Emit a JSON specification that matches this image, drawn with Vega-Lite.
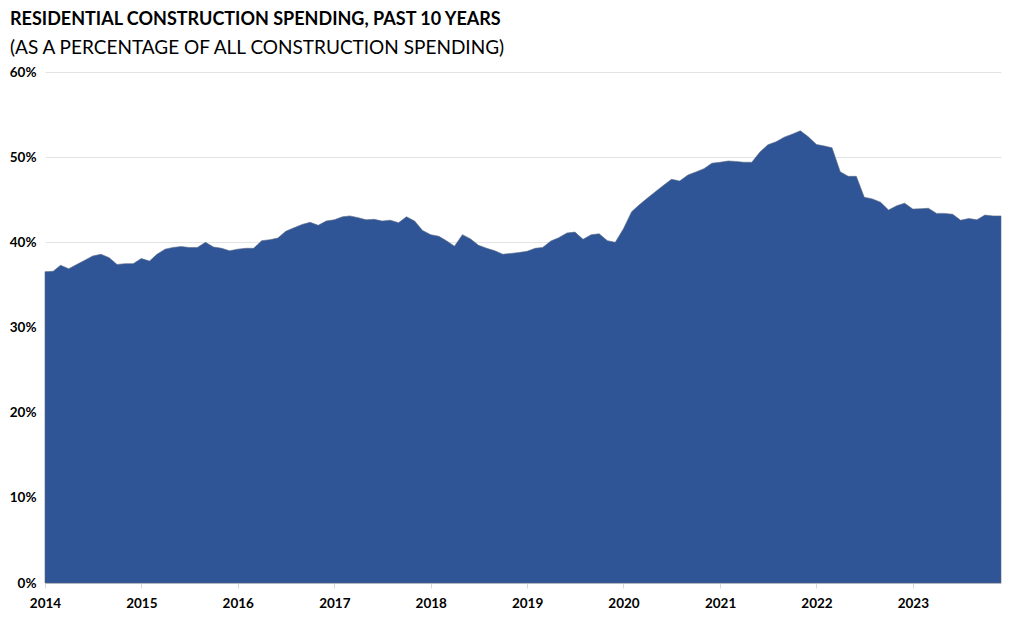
{
  "$schema": "https://vega.github.io/schema/vega-lite/v6.json",
  "width": 956,
  "height": 511,
  "autosize": {"type": "none"},
  "padding": {"left": 45, "top": 72, "right": 23, "bottom": 34},
  "background": "white",
  "config": {"view": {"stroke": null}, "font": "Lato"},
  "title": {
    "text": "RESIDENTIAL CONSTRUCTION SPENDING, PAST 10 YEARS",
    "subtitle": "(AS A PERCENTAGE OF ALL CONSTRUCTION SPENDING)",
    "anchor": "start",
    "frame": "group",
    "dx": -35,
    "offset": 7,
    "font": "Lato",
    "fontSize": 18,
    "fontWeight": "bold",
    "color": "#000000",
    "subtitleFont": "Lato",
    "subtitleFontSize": 19,
    "subtitleColor": "#000000",
    "subtitleFontWeight": "normal",
    "subtitlePadding": 10
  },
  "data": {
    "values": [
      {"date": "2014-01-01", "pct": 36.55}, {"date": "2014-02-01", "pct": 36.6}, {"date": "2014-03-01", "pct": 37.3}, {"date": "2014-04-01", "pct": 36.9}, {"date": "2014-05-01", "pct": 37.4}, {"date": "2014-06-01", "pct": 37.9}, {"date": "2014-07-01", "pct": 38.4}, {"date": "2014-08-01", "pct": 38.6}, {"date": "2014-09-01", "pct": 38.2}, {"date": "2014-10-01", "pct": 37.4}, {"date": "2014-11-01", "pct": 37.5}, {"date": "2014-12-01", "pct": 37.5},
      {"date": "2015-01-01", "pct": 38.1}, {"date": "2015-02-01", "pct": 37.8}, {"date": "2015-03-01", "pct": 38.6}, {"date": "2015-04-01", "pct": 39.2}, {"date": "2015-05-01", "pct": 39.4}, {"date": "2015-06-01", "pct": 39.5}, {"date": "2015-07-01", "pct": 39.4}, {"date": "2015-08-01", "pct": 39.4}, {"date": "2015-09-01", "pct": 40.0}, {"date": "2015-10-01", "pct": 39.45}, {"date": "2015-11-01", "pct": 39.3}, {"date": "2015-12-01", "pct": 39.0},
      {"date": "2016-01-01", "pct": 39.2}, {"date": "2016-02-01", "pct": 39.3}, {"date": "2016-03-01", "pct": 39.3}, {"date": "2016-04-01", "pct": 40.2}, {"date": "2016-05-01", "pct": 40.3}, {"date": "2016-06-01", "pct": 40.5}, {"date": "2016-07-01", "pct": 41.3}, {"date": "2016-08-01", "pct": 41.7}, {"date": "2016-09-01", "pct": 42.1}, {"date": "2016-10-01", "pct": 42.35}, {"date": "2016-11-01", "pct": 42.0}, {"date": "2016-12-01", "pct": 42.5},
      {"date": "2017-01-01", "pct": 42.65}, {"date": "2017-02-01", "pct": 43.0}, {"date": "2017-03-01", "pct": 43.1}, {"date": "2017-04-01", "pct": 42.9}, {"date": "2017-05-01", "pct": 42.65}, {"date": "2017-06-01", "pct": 42.7}, {"date": "2017-07-01", "pct": 42.5}, {"date": "2017-08-01", "pct": 42.6}, {"date": "2017-09-01", "pct": 42.3}, {"date": "2017-10-01", "pct": 43.0}, {"date": "2017-11-01", "pct": 42.5}, {"date": "2017-12-01", "pct": 41.4},
      {"date": "2018-01-01", "pct": 40.9}, {"date": "2018-02-01", "pct": 40.7}, {"date": "2018-03-01", "pct": 40.2}, {"date": "2018-04-01", "pct": 39.55}, {"date": "2018-05-01", "pct": 40.9}, {"date": "2018-06-01", "pct": 40.4}, {"date": "2018-07-01", "pct": 39.65}, {"date": "2018-08-01", "pct": 39.3}, {"date": "2018-09-01", "pct": 39.0}, {"date": "2018-10-01", "pct": 38.6}, {"date": "2018-11-01", "pct": 38.7}, {"date": "2018-12-01", "pct": 38.8},
      {"date": "2019-01-01", "pct": 38.95}, {"date": "2019-02-01", "pct": 39.3}, {"date": "2019-03-01", "pct": 39.4}, {"date": "2019-04-01", "pct": 40.15}, {"date": "2019-05-01", "pct": 40.55}, {"date": "2019-06-01", "pct": 41.1}, {"date": "2019-07-01", "pct": 41.2}, {"date": "2019-08-01", "pct": 40.35}, {"date": "2019-09-01", "pct": 40.9}, {"date": "2019-10-01", "pct": 41.0}, {"date": "2019-11-01", "pct": 40.2}, {"date": "2019-12-01", "pct": 40.0},
      {"date": "2020-01-01", "pct": 41.6}, {"date": "2020-02-01", "pct": 43.6}, {"date": "2020-03-01", "pct": 44.4}, {"date": "2020-04-01", "pct": 45.2}, {"date": "2020-05-01", "pct": 45.95}, {"date": "2020-06-01", "pct": 46.7}, {"date": "2020-07-01", "pct": 47.4}, {"date": "2020-08-01", "pct": 47.2}, {"date": "2020-09-01", "pct": 47.9}, {"date": "2020-10-01", "pct": 48.25}, {"date": "2020-11-01", "pct": 48.65}, {"date": "2020-12-01", "pct": 49.3},
      {"date": "2021-01-01", "pct": 49.4}, {"date": "2021-02-01", "pct": 49.55}, {"date": "2021-03-01", "pct": 49.5}, {"date": "2021-04-01", "pct": 49.4}, {"date": "2021-05-01", "pct": 49.4}, {"date": "2021-06-01", "pct": 50.6}, {"date": "2021-07-01", "pct": 51.45}, {"date": "2021-08-01", "pct": 51.8}, {"date": "2021-09-01", "pct": 52.35}, {"date": "2021-10-01", "pct": 52.7}, {"date": "2021-11-01", "pct": 53.1}, {"date": "2021-12-01", "pct": 52.4},
      {"date": "2022-01-01", "pct": 51.5}, {"date": "2022-02-01", "pct": 51.3}, {"date": "2022-03-01", "pct": 51.1}, {"date": "2022-04-01", "pct": 48.3}, {"date": "2022-05-01", "pct": 47.75}, {"date": "2022-06-01", "pct": 47.75}, {"date": "2022-07-01", "pct": 45.3}, {"date": "2022-08-01", "pct": 45.1}, {"date": "2022-09-01", "pct": 44.7}, {"date": "2022-10-01", "pct": 43.8}, {"date": "2022-11-01", "pct": 44.3}, {"date": "2022-12-01", "pct": 44.6},
      {"date": "2023-01-01", "pct": 43.9}, {"date": "2023-02-01", "pct": 43.95}, {"date": "2023-03-01", "pct": 44.0}, {"date": "2023-04-01", "pct": 43.4}, {"date": "2023-05-01", "pct": 43.4}, {"date": "2023-06-01", "pct": 43.3}, {"date": "2023-07-01", "pct": 42.6}, {"date": "2023-08-01", "pct": 42.8}, {"date": "2023-09-01", "pct": 42.65}, {"date": "2023-10-01", "pct": 43.2}, {"date": "2023-11-01", "pct": 43.1}, {"date": "2023-12-01", "pct": 43.1}
    ]
  },
  "mark": {"type": "area", "color": "#2F5597", "stroke": "#5a6a84", "strokeWidth": 0.6, "interpolate": "linear"},
  "encoding": {
    "x": {
      "field": "date",
      "type": "temporal",
      "scale": {"type": "utc", "domain": [{"year": 2014, "month": 1, "date": 1, "utc": true}, {"year": 2023, "month": 12, "date": 1, "utc": true}], "nice": false},
      "axis": {
        "title": null,
        "format": "%Y",
        "formatType": "utc",
        "tickCount": {"interval": "year", "step": 1},
        "grid": false,
        "domainColor": "#d9d9d9",
        "tickColor": "#d9d9d9",
        "tickSize": 5,
        "labelPadding": 8,
        "labelFont": "Lato",
        "labelFontSize": 13.5,
        "labelFontWeight": "bold",
        "labelColor": "#000000",
        "labelAlign": "center",
        "labelFlush": false,
        "labelOverlap": false
      }
    },
    "y": {
      "field": "pct",
      "type": "quantitative",
      "scale": {"domain": [0, 60], "nice": false},
      "axis": {
        "title": null,
        "values": [0, 10, 20, 30, 40, 50, 60],
        "labelExpr": "datum.value + '%'",
        "domain": false,
        "ticks": false,
        "grid": true,
        "gridColor": "#e3e3e3",
        "gridWidth": 1,
        "labelPadding": 9,
        "labelFont": "Lato",
        "labelFontSize": 13.5,
        "labelFontWeight": "bold",
        "labelColor": "#000000"
      }
    }
  }
}
